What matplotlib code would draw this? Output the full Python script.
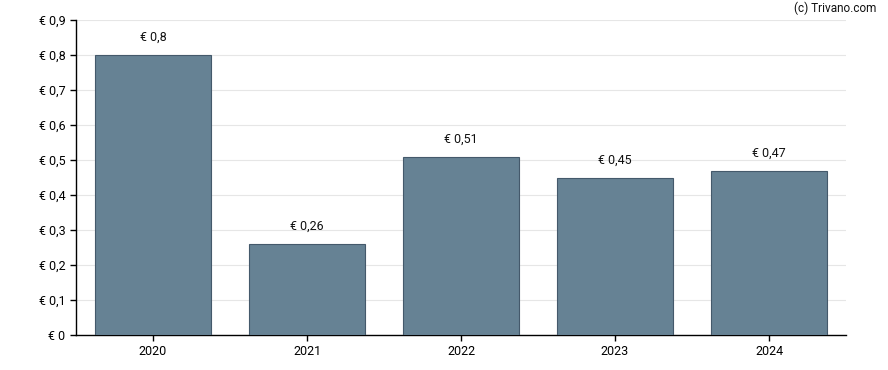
import numpy as np
import matplotlib
matplotlib.use("Agg")
import matplotlib.pyplot as plt

plt.rcParams['font.family'] = ['Roboto', 'DejaVu Sans']

years = ['2020', '2021', '2022', '2023', '2024']
values = [0.8, 0.26, 0.51, 0.45, 0.47]
labels = ['€ 0,8', '€ 0,26', '€ 0,51', '€ 0,45', '€ 0,47']
yticks = [0, 0.1, 0.2, 0.3, 0.4, 0.5, 0.6, 0.7, 0.8, 0.9]
ytick_labels = ['€ 0', '€ 0,1', '€ 0,2', '€ 0,3', '€ 0,4', '€ 0,5', '€ 0,6', '€ 0,7', '€ 0,8', '€ 0,9']

fig = plt.figure(figsize=(8.88, 3.70), dpi=100)
ax = fig.add_axes([76/888, 35/370, 770/888, 315/370])

x = np.arange(len(years))
ax.bar(x, values, width=0.75, color='#668294', edgecolor='#44596b', linewidth=0.8, zorder=3)
for xi, v, lab in zip(x, values, labels):
    ax.annotate(lab, (xi, v), xytext=(0, 8), textcoords='offset points',
                ha='center', va='bottom', fontsize=9, color='#111111')

ax.set_xlim(-0.5, len(years) - 0.5)
ax.set_ylim(0, 0.9)
ax.set_xticks(x)
ax.set_xticklabels(years, fontsize=9)
ax.set_yticks(yticks)
ax.set_yticklabels(ytick_labels, fontsize=9)
ax.grid(axis='y', color='#e6e6e6', linewidth=0.8, zorder=0)
ax.tick_params(axis='both', length=4, width=1, color='black')
for s in ['top', 'right']:
    ax.spines[s].set_visible(False)
ax.spines['left'].set_linewidth(1)
ax.spines['bottom'].set_linewidth(1)

fig.text(876/888, 1 - 8/370, '(c) Trivano.com', ha='right', va='center', fontsize=8.5, color='#111111')

fig.savefig('out.png', dpi=100)
